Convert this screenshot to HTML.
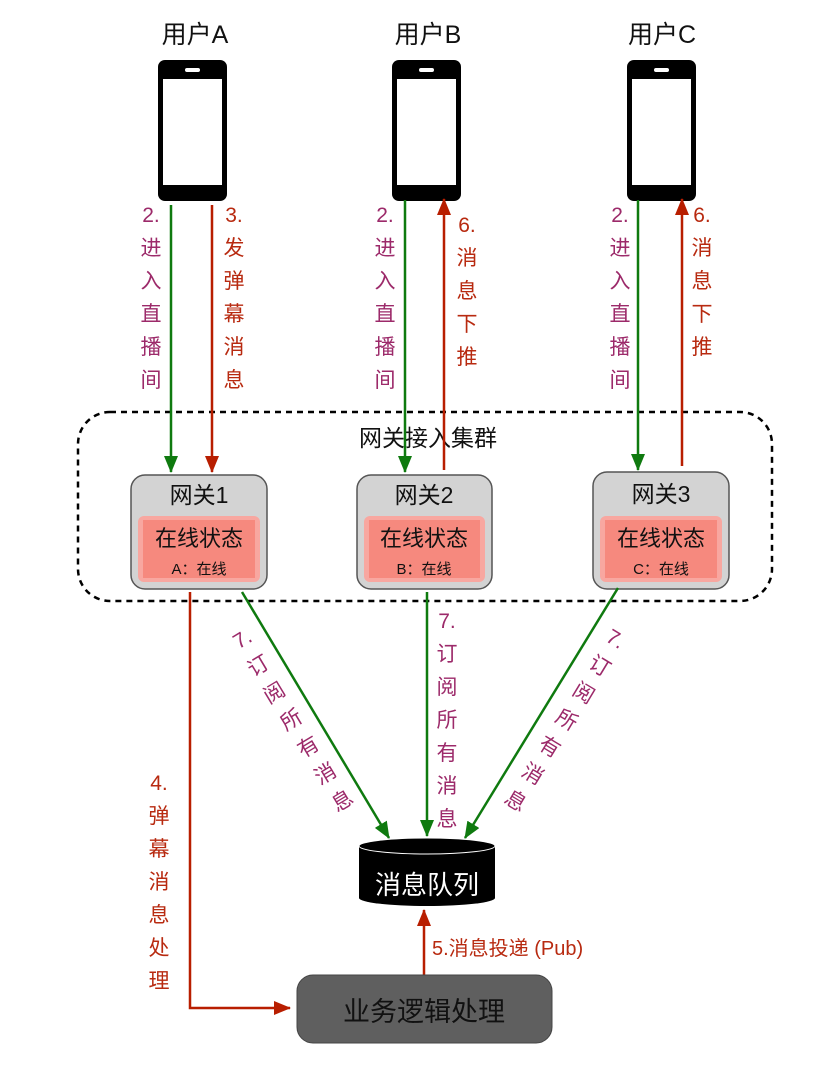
<!DOCTYPE html>
<html><head><meta charset="utf-8"><style>
html,body{margin:0;padding:0;background:#fff;}
svg{display:block;}
text{font-family:"Liberation Sans","Noto Sans CJK SC",sans-serif;}
</style></head><body>
<svg width="814" height="1070" viewBox="0 0 814 1070" xmlns="http://www.w3.org/2000/svg">
<defs>
<marker id="ag" markerWidth="17" markerHeight="14" refX="16" refY="7" orient="auto" markerUnits="userSpaceOnUse"><path d="M0,0 L17,7 L0,14 Z" fill="#0f7a0f"/></marker>
<marker id="ar" markerWidth="17" markerHeight="14" refX="16" refY="7" orient="auto" markerUnits="userSpaceOnUse"><path d="M0,0 L17,7 L0,14 Z" fill="#b81e00"/></marker>
</defs>

<g font-size="25" fill="#111" text-anchor="middle">
<text x="195" y="43">用户A</text>
<text x="428" y="43">用户B</text>
<text x="662" y="43">用户C</text>
</g>

<g>
<rect x="158" y="60" width="69" height="141" rx="7" fill="#000"/>
<rect x="163" y="79" width="59" height="106" fill="#fff"/>
<rect x="185" y="68" width="15" height="4" rx="2" fill="#fff"/>
<rect x="392" y="60" width="69" height="141" rx="7" fill="#000"/>
<rect x="397" y="79" width="59" height="106" fill="#fff"/>
<rect x="419" y="68" width="15" height="4" rx="2" fill="#fff"/>
<rect x="627" y="60" width="69" height="141" rx="7" fill="#000"/>
<rect x="632" y="79" width="59" height="106" fill="#fff"/>
<rect x="654" y="68" width="15" height="4" rx="2" fill="#fff"/>
</g>

<rect x="78" y="412" width="694" height="189" rx="32" fill="none" stroke="#000" stroke-width="2.5" stroke-dasharray="6,5"/>
<text x="428" y="446" font-size="23" text-anchor="middle" fill="#111">网关接入集群</text>

<g>
<rect x="131" y="475" width="136" height="114" rx="14" fill="#d3d3d3" stroke="#555" stroke-width="1.5"/>
<rect x="138" y="516" width="122" height="66" rx="6" fill="#f8a7a0"/>
<rect x="143" y="520" width="112" height="58" fill="#f6897e"/>
<text x="199" y="503" font-size="23" text-anchor="middle" fill="#111">网关1</text>
<text x="199" y="546" font-size="22" text-anchor="middle" fill="#111">在线状态</text>
<text x="199" y="574" font-size="15" text-anchor="middle" fill="#111">A：在线</text>

<rect x="357" y="475" width="135" height="114" rx="14" fill="#d3d3d3" stroke="#555" stroke-width="1.5"/>
<rect x="364" y="516" width="121" height="66" rx="6" fill="#f8a7a0"/>
<rect x="369" y="520" width="111" height="58" fill="#f6897e"/>
<text x="424" y="503" font-size="23" text-anchor="middle" fill="#111">网关2</text>
<text x="424" y="546" font-size="22" text-anchor="middle" fill="#111">在线状态</text>
<text x="424" y="574" font-size="15" text-anchor="middle" fill="#111">B：在线</text>

<rect x="593" y="472" width="136" height="117" rx="14" fill="#d3d3d3" stroke="#555" stroke-width="1.5"/>
<rect x="600" y="516" width="122" height="66" rx="6" fill="#f8a7a0"/>
<rect x="605" y="520" width="112" height="58" fill="#f6897e"/>
<text x="661" y="502" font-size="23" text-anchor="middle" fill="#111">网关3</text>
<text x="661" y="546" font-size="22" text-anchor="middle" fill="#111">在线状态</text>
<text x="661" y="574" font-size="15" text-anchor="middle" fill="#111">C：在线</text>
</g>

<g stroke-width="2.5" fill="none">
<line x1="171" y1="205" x2="171" y2="472" stroke="#0f7a0f" marker-end="url(#ag)"/>
<line x1="212" y1="205" x2="212" y2="472" stroke="#b81e00" marker-end="url(#ar)"/>
<line x1="405" y1="200" x2="405" y2="472" stroke="#0f7a0f" marker-end="url(#ag)"/>
<line x1="444" y1="470" x2="444" y2="199" stroke="#b81e00" marker-end="url(#ar)"/>
<line x1="638" y1="200" x2="638" y2="470" stroke="#0f7a0f" marker-end="url(#ag)"/>
<line x1="682" y1="466" x2="682" y2="199" stroke="#b81e00" marker-end="url(#ar)"/>
</g>

<g font-size="21" text-anchor="middle" fill="#9c2a6a">
<text x="151" y="222">2.</text><text x="151" y="255">进</text><text x="151" y="288">入</text><text x="151" y="321">直</text><text x="151" y="354">播</text><text x="151" y="387">间</text>
<text x="385" y="222">2.</text><text x="385" y="255">进</text><text x="385" y="288">入</text><text x="385" y="321">直</text><text x="385" y="354">播</text><text x="385" y="387">间</text>
<text x="620" y="222">2.</text><text x="620" y="255">进</text><text x="620" y="288">入</text><text x="620" y="321">直</text><text x="620" y="354">播</text><text x="620" y="387">间</text>
<text x="447" y="628">7.</text><text x="447" y="661">订</text><text x="447" y="694">阅</text><text x="447" y="727">所</text><text x="447" y="760">有</text><text x="447" y="793">消</text><text x="447" y="826">息</text>
</g>
<g font-size="21" text-anchor="middle" fill="#b82a10">
<text x="234" y="222">3.</text><text x="234" y="255">发</text><text x="234" y="288">弹</text><text x="234" y="321">幕</text><text x="234" y="354">消</text><text x="234" y="387">息</text>
<text x="467" y="232">6.</text><text x="467" y="265">消</text><text x="467" y="298">息</text><text x="467" y="331">下</text><text x="467" y="364">推</text>
<text x="702" y="222">6.</text><text x="702" y="255">消</text><text x="702" y="288">息</text><text x="702" y="321">下</text><text x="702" y="354">推</text>
<text x="159" y="790">4.</text><text x="159" y="823">弹</text><text x="159" y="856">幕</text><text x="159" y="889">消</text><text x="159" y="922">息</text><text x="159" y="955">处</text><text x="159" y="988">理</text>
</g>

<g font-size="21" text-anchor="middle" fill="#9c2a6a">
<text transform="translate(246,645) rotate(-31)">7.</text>
<text transform="translate(262,672) rotate(-31)">订</text>
<text transform="translate(278,699) rotate(-31)">阅</text>
<text transform="translate(295,726) rotate(-31)">所</text>
<text transform="translate(312,753) rotate(-31)">有</text>
<text transform="translate(329,780) rotate(-31)">消</text>
<text transform="translate(346,807) rotate(-31)">息</text>
<text transform="translate(612,645) rotate(31)">7.</text>
<text transform="translate(596,672) rotate(31)">订</text>
<text transform="translate(580,699) rotate(31)">阅</text>
<text transform="translate(563,726) rotate(31)">所</text>
<text transform="translate(546,753) rotate(31)">有</text>
<text transform="translate(529,780) rotate(31)">消</text>
<text transform="translate(512,807) rotate(31)">息</text>
</g>

<g stroke-width="2.5" fill="none">
<line x1="242" y1="592" x2="389" y2="838" stroke="#0f7a0f" marker-end="url(#ag)"/>
<line x1="427" y1="592" x2="427" y2="836" stroke="#0f7a0f" marker-end="url(#ag)"/>
<line x1="618" y1="588" x2="465" y2="838" stroke="#0f7a0f" marker-end="url(#ag)"/>
<polyline points="190,592 190,1008 290,1008" stroke="#b81e00" marker-end="url(#ar)"/>
<line x1="424" y1="975" x2="424" y2="910" stroke="#b81e00" marker-end="url(#ar)"/>
</g>
<text x="432" y="955" font-size="20" fill="#b82a10">5.消息投递 (Pub)</text>

<path d="M359,846 L359,898 A68,8 0 0 0 495,898 L495,846 Z" fill="#000"/>
<ellipse cx="427" cy="846" rx="68" ry="8" fill="#000" stroke="#fff" stroke-width="1"/>
<text x="427" y="894" font-size="26" text-anchor="middle" fill="#fff">消息队列</text>

<rect x="297" y="975" width="255" height="68" rx="16" fill="#5f5f5f" stroke="#444" stroke-width="1"/>
<text x="424" y="1021" font-size="27" text-anchor="middle" fill="#111">业务逻辑处理</text>
</svg>
</body></html>
